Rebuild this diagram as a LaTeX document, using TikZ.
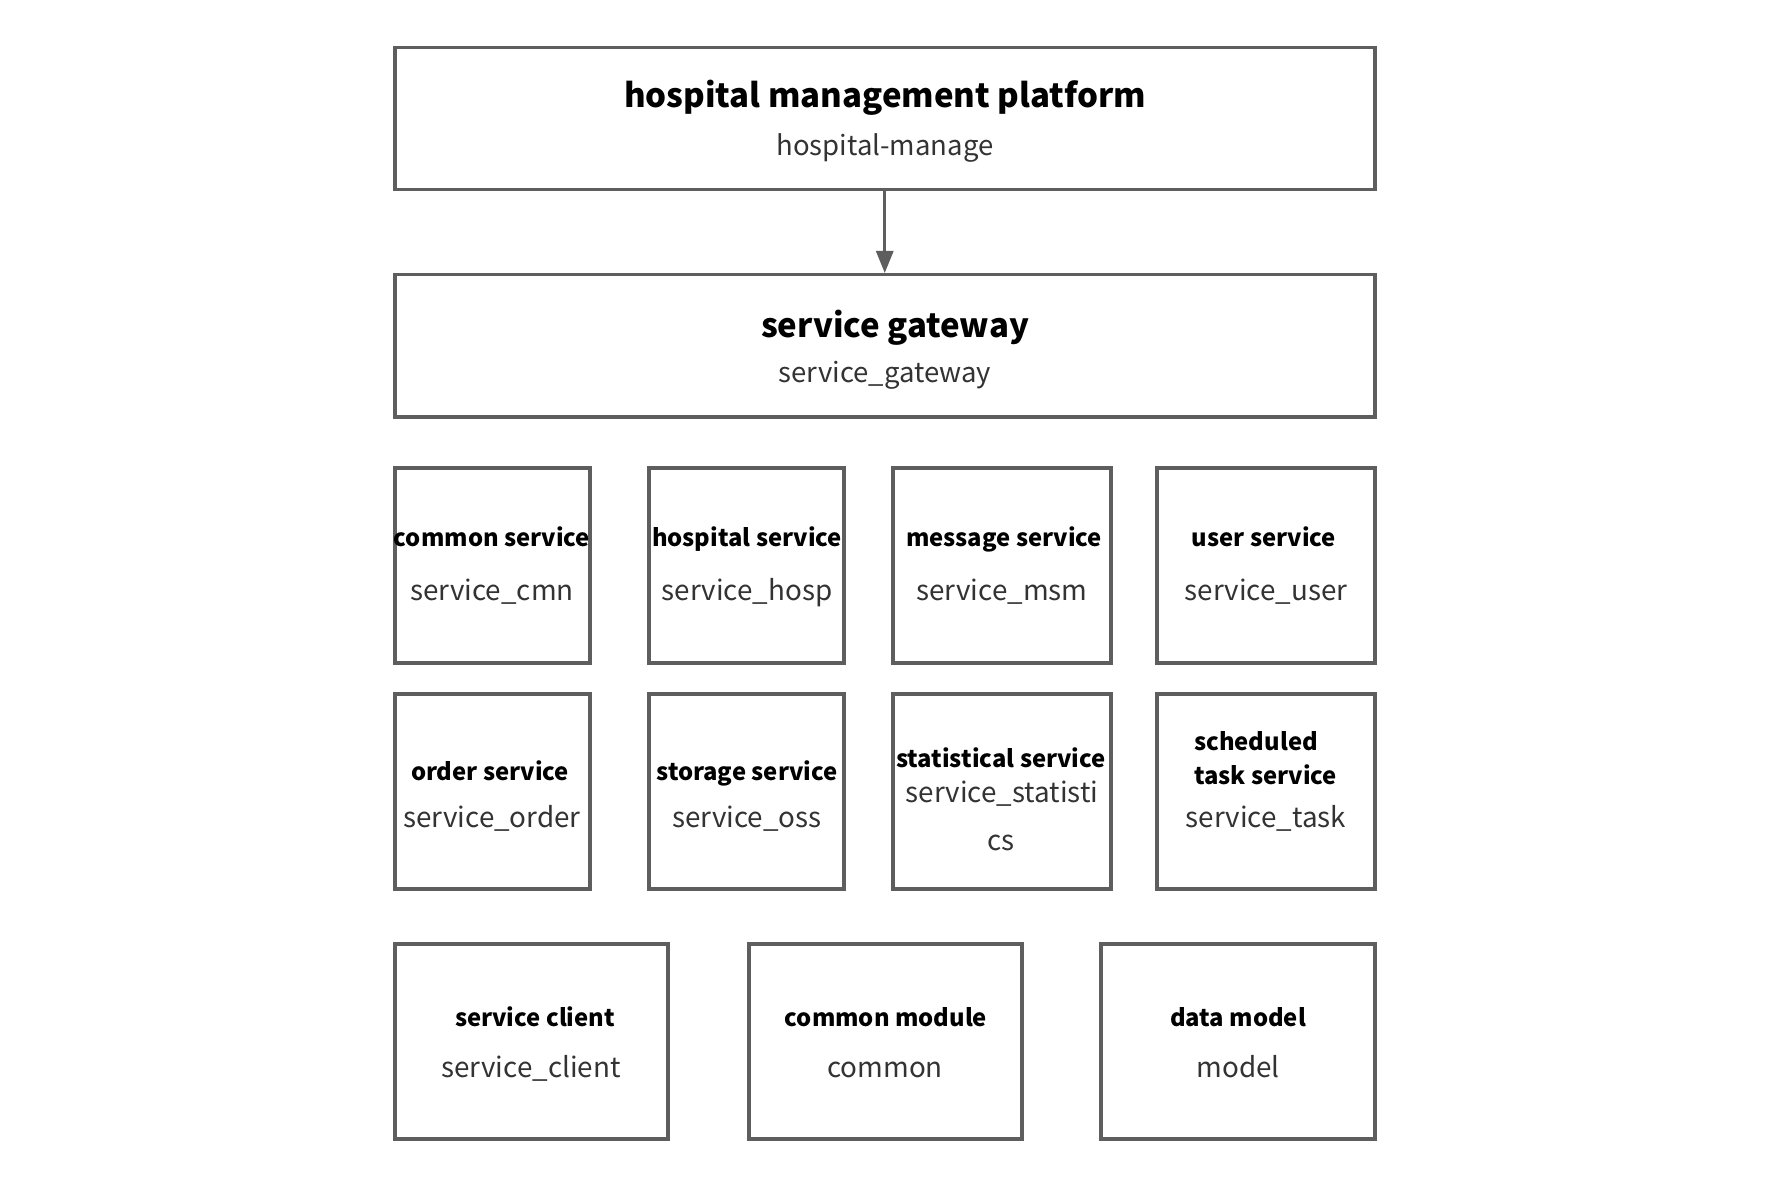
\documentclass[tikz,border=0pt]{standalone}
\usepackage{fontspec}
\setmainfont{Noto Sans CJK SC}
\usetikzlibrary{arrows.meta}
\definecolor{edge}{HTML}{5E5E5E}
\definecolor{sub}{HTML}{333333}
\begin{document}
\begin{tikzpicture}[x=1pt,y=-1pt,
  box/.style={draw=edge,line width=3.5pt,fill=white,anchor=north west,inner sep=0pt},
  txt/.style={inner sep=0pt,text height=0.8em,text depth=0.22em},
  head/.style={txt,yshift=-9pt,font=\fontsize{33}{40}\selectfont\bfseries,text=black},
  headsub/.style={txt,yshift=-7.5pt,font=\fontsize{27.5}{32}\selectfont,text=sub},
  tag/.style={txt,yshift=-7pt,font=\fontsize{23.8}{30}\selectfont\bfseries,text=black},
  tagsub/.style={txt,yshift=-7.5pt,font=\fontsize{27.8}{34}\selectfont,text=sub},
  link/.style={draw=edge,line width=3pt,-{Triangle[length=22pt,width=17pt]}}]
\useasboundingbox[fill=white] (0,0) rectangle (1790,1190);

% platform and gateway
\node[box,minimum width=980pt,minimum height=142pt] (plat) at (393,46) {};
\node[head] (platT) at (885,96) {hospital management platform};
\node[headsub] (platS) at (885,145) {hospital-manage};

\node[box,minimum width=980pt,minimum height=142pt] (gw) at (393,273) {};
\node[head] (gwT) at (895,326) {service gateway};
\node[headsub] (gwS) at (885,372) {service\_gateway};

\draw[link] (plat.south) -- (gw.north);

% first row of services
\node[box,minimum width=195pt,minimum height=195pt] (cmn) at (393,466) {};
\node[tag] (cmnT) at (492,537) {common service};
\node[tagsub] (cmnS) at (492,590) {service\_cmn};

\node[box,minimum width=195pt,minimum height=195pt] (hosp) at (647,466) {};
\node[tag] (hospT) at (747,537) {hospital service};
\node[tagsub] (hospS) at (747,590) {service\_hosp};

\node[box,minimum width=218pt,minimum height=195pt] (msm) at (891,466) {};
\node[tag] (msmT) at (1004,537) {message service};
\node[tagsub] (msmS) at (1002,590) {service\_msm};

\node[box,minimum width=218pt,minimum height=195pt] (usr) at (1155,466) {};
\node[tag] (usrT) at (1264,537) {user service};
\node[tagsub] (usrS) at (1266,590) {service\_user};

% second row of services
\node[box,minimum width=195pt,minimum height=195pt] (ord) at (393,692) {};
\node[tag] (ordT) at (490,771) {order service};
\node[tagsub] (ordS) at (492,817) {service\_order};

\node[box,minimum width=195pt,minimum height=195pt] (oss) at (647,692) {};
\node[tag] (ossT) at (747,771) {storage service};
\node[tagsub] (ossS) at (747,817) {service\_oss};

\node[box,minimum width=218pt,minimum height=195pt] (sta) at (891,692) {};
\node[tag] (staT) at (1001,758) {statistical service};
\node[tagsub] (staS) at (1002,792) {service\_statisti};
\node[tagsub] (staS2) at (1001,840) {cs};

\node[box,minimum width=218pt,minimum height=195pt] (tsk) at (1155,692) {};
\node[tag,anchor=west] (tskT) at (1194,741) {scheduled};
\node[tag,anchor=west] (tskT2) at (1194,775) {task service};
\node[tagsub] (tskS) at (1266,817) {service\_task};

% shared modules
\node[box,minimum width=273pt,minimum height=195pt] (cli) at (393,942) {};
\node[tag] (cliT) at (535,1017) {service client};
\node[tagsub] (cliS) at (531,1067) {service\_client};

\node[box,minimum width=273pt,minimum height=195pt] (com) at (747,942) {};
\node[tag] (comT) at (886,1017) {common module};
\node[tagsub] (comS) at (885,1067) {common};

\node[box,minimum width=274pt,minimum height=195pt] (mdl) at (1099,942) {};
\node[tag] (mdlT) at (1238,1017) {data model};
\node[tagsub] (mdlS) at (1238,1067) {model};
\end{tikzpicture}
\end{document}
